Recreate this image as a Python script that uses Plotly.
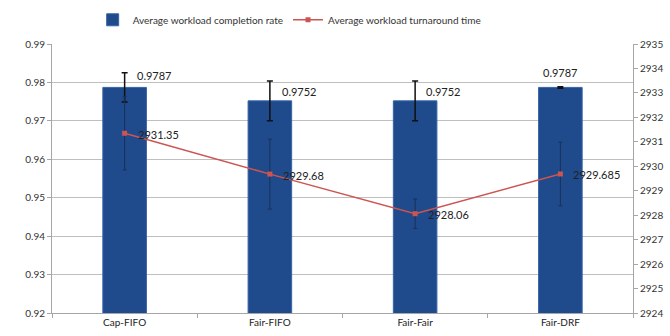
import plotly.graph_objects as go
from plotly.subplots import make_subplots

# Scheduler configurations
categories = ["Cap-FIFO", "Fair-FIFO", "Fair-Fair", "Fair-DRF"]

# Average workload completion rate (left axis) and its error
completion_rate = [0.9787, 0.9752, 0.9752, 0.9787]
completion_err = [0.0038, 0.0052, 0.0052, 0.0002]

# Average workload turnaround time (right axis) and its error
turnaround = [2931.35, 2929.68, 2928.06, 2929.685]
turnaround_err = [1.5, 1.43, 0.6, 1.3]
turnaround_text = ["2931.35", "2929.68", "2928.06", "2929.685"]

left_ticks = [0.92, 0.93, 0.94, 0.95, 0.96, 0.97, 0.98, 0.99]
right_ticks = list(range(2924, 2936))

FONT = "Lato"
TXT = "#333333"
BAR = "#1F4A8C"
LINE = "#CC5552"

fig = make_subplots(specs=[[{"secondary_y": True}]])

fig.add_trace(
    go.Bar(
        x=categories,
        y=completion_rate,
        name="Average workload completion rate",
        marker=dict(color=BAR, line=dict(color="#3564A8", width=1)),
        error_y=dict(type="data", array=completion_err, visible=True,
                     color="#111111", thickness=1.5, width=3),
    ),
    secondary_y=False,
)

fig.add_trace(
    go.Scatter(
        x=categories,
        y=turnaround,
        name="Average workload turnaround time",
        mode="lines+markers",
        line=dict(color=LINE, width=1.5),
        marker=dict(symbol="square", size=5, color=LINE),
        error_y=dict(type="data", array=turnaround_err, visible=True,
                     color="#1A3158", thickness=1, width=2),
    ),
    secondary_y=True,
)

# Value labels for the bars
bar_label_offsets = [(30, 12), (30, 9), (28, 9), (0, 15)]
for cat, val, (dx, dy) in zip(categories, completion_rate, bar_label_offsets):
    fig.add_annotation(
        x=cat, y=val, yref="y", text=f"{val:.4f}", showarrow=False,
        xshift=dx, yshift=dy, font=dict(family=FONT, size=11, color="#222222"),
    )

# Value labels for the line points
for cat, val, txt in zip(categories, turnaround, turnaround_text):
    fig.add_annotation(
        x=cat, y=val, yref="y2", text=txt, showarrow=False,
        xanchor="left", xshift=11, yshift=-1,
        font=dict(family=FONT, size=11, color="#222222"),
    )

fig.update_layout(
    width=670,
    height=336,
    margin=dict(l=52, r=37, t=44, b=23, autoexpand=False),
    paper_bgcolor="white",
    plot_bgcolor="white",
    bargap=0.7,
    font=dict(family=FONT, size=10, color=TXT),
    showlegend=True,
    legend=dict(
        orientation="h", x=0.07, xanchor="left", y=1.09, yanchor="middle",
        font=dict(family=FONT, size=10, color="#333333"),
        itemwidth=30, tracegroupgap=0,
    ),
)

fig.update_xaxes(
    domain=[0, 1],
    showline=True, linecolor="#A6A6A6", linewidth=1,
    ticks="outside", tickson="boundaries", ticklen=4, tickcolor="#A6A6A6",
    tickfont=dict(family=FONT, size=10, color="#222222"),
    showgrid=False,
)

fig.update_yaxes(
    range=[0.92, 0.99], tickvals=left_ticks, tickformat=".2f",
    showline=True, linecolor="#A6A6A6", linewidth=1,
    ticks="outside", ticklen=4, tickcolor="#A6A6A6",
    showgrid=True, gridcolor="#BFBFBF", gridwidth=1,
    tickfont=dict(family=FONT, size=10, color="#333333"),
    zeroline=False,
    secondary_y=False,
)

fig.update_yaxes(
    range=[2924, 2935], tickvals=right_ticks,
    showline=True, linecolor="#A6A6A6", linewidth=1,
    ticks="outside", ticklen=4, tickcolor="#A6A6A6",
    showgrid=False, zeroline=False,
    tickfont=dict(family=FONT, size=10, color="#333333"),
    secondary_y=True,
)

fig.write_html("out.html")
